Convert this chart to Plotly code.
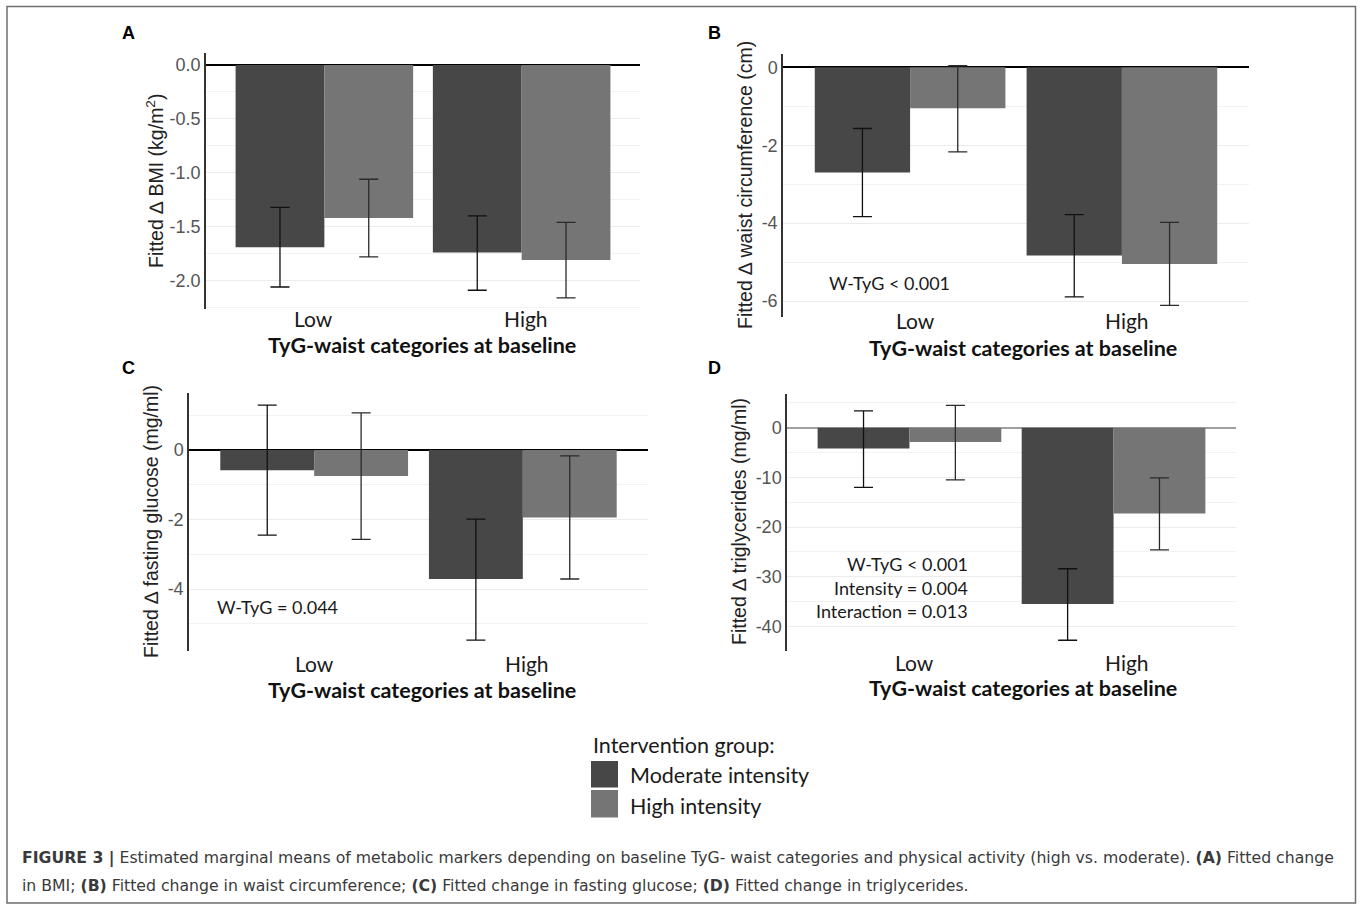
import plotly.graph_objects as go

W, H = 1360, 906

categories = ["Low", "High"]
group_names = ["Moderate intensity", "High intensity"]

# Panel A: BMI
bmi_mod = [-1.69, -1.74]
bmi_mod_lo = [-2.06, -2.09]
bmi_mod_hi = [-1.32, -1.40]
bmi_high = [-1.42, -1.81]
bmi_high_lo = [-1.78, -2.16]
bmi_high_hi = [-1.06, -1.46]
bmi_tickvals = [0.0, -0.5, -1.0, -1.5, -2.0]
bmi_ticktext = ["0.0", "-0.5", "-1.0", "-1.5", "-2.0"]

# Panel B: waist circumference
waist_mod = [-2.70, -4.83]
waist_mod_lo = [-3.83, -5.89]
waist_mod_hi = [-1.57, -3.78]
waist_high = [-1.05, -5.05]
waist_high_lo = [-2.17, -6.11]
waist_high_hi = [0.04, -3.98]
waist_tickvals = [0, -2, -4, -6]
waist_ticktext = ["0", "-2", "-4", "-6"]

# Panel C: fasting glucose
glu_mod = [-0.58, -3.71]
glu_mod_lo = [-2.45, -5.47]
glu_mod_hi = [1.29, -1.99]
glu_high = [-0.75, -1.94]
glu_high_lo = [-2.57, -3.71]
glu_high_hi = [1.07, -0.17]
glu_tickvals = [0, -2, -4]
glu_ticktext = ["0", "-2", "-4"]

# Panel D: triglycerides
tg_mod = [-4.2, -35.5]
tg_mod_lo = [-12.0, -42.8]
tg_mod_hi = [3.4, -28.4]
tg_high = [-2.9, -17.3]
tg_high_lo = [-10.5, -24.6]
tg_high_hi = [4.5, -10.1]
tg_tickvals = [0, -10, -20, -30, -40]
tg_ticktext = ["0", "-10", "-20", "-30", "-40"]

COL_MOD = "#474747"
COL_HIGH = "#757575"
CAL = "Lato, 'Open Sans', sans-serif"
ARIAL = "'Liberation Sans', Arial, sans-serif"


def px_x(p):
    return p / W


def px_y(p):
    return 1 - p / H


panels = [
    dict(mod=bmi_mod, mlo=bmi_mod_lo, mhi=bmi_mod_hi, hi=bmi_high, hlo=bmi_high_lo, hhi=bmi_high_hi,
         tv=bmi_tickvals, tt=bmi_ticktext, minor=0.25, yr=[-2.264, 0.109],
         xd=[206, 640], yd=[309, 53.3], zc="#000000",
         ytitle="Fitted \u2206 BMI (kg/m<sup>2</sup>)", ytx=155, yty=181,
         letter="A", lx=128, ly=33, xtx=422, xty=345, cty=318, csh=[-11, 4]),
    dict(mod=waist_mod, mlo=waist_mod_lo, mhi=waist_mod_hi, hi=waist_high, hlo=waist_high_lo, hhi=waist_high_hi,
         tv=waist_tickvals, tt=waist_ticktext, minor=1, yr=[-6.40, 0.334],
         xd=[783, 1249], yd=[316.7, 54.3], zc="#000000",
         ytitle="Fitted \u2206 waist circumference (cm)", ytx=745, yty=185,
         letter="B", lx=714, ly=33, xtx=1023, xty=348, cty=320, csh=[5, 5]),
    dict(mod=glu_mod, mlo=glu_mod_lo, mhi=glu_mod_hi, hi=glu_high, hlo=glu_high_lo, hhi=glu_high_hi,
         tv=glu_tickvals, tt=glu_ticktext, minor=1, yr=[-5.78, 1.63],
         xd=[189, 648], yd=[651, 393.3], zc="#000000",
         ytitle="Fitted \u2206 fasting glucose (mg/ml)", ytx=151, yty=522,
         letter="C", lx=128, ly=368, xtx=422, xty=690, cty=663, csh=[0, 4]),
    dict(mod=tg_mod, mlo=tg_mod_lo, mhi=tg_mod_hi, hi=tg_high, hlo=tg_high_lo, hhi=tg_high_hi,
         tv=tg_tickvals, tt=tg_ticktext, minor=5, yr=[-44.96, 6.72],
         xd=[787, 1236], yd=[651, 394.3], zc="#a0a0a0",
         ytitle="Fitted \u2206 triglycerides (mg/ml)", ytx=739, yty=521,
         letter="D", lx=714, ly=368, xtx=1023, xty=688, cty=662, csh=[5, 13]),
]

fig = go.Figure()
annotations = []
layout_axes = {}

for i, p in enumerate(panels, start=1):
    xa = "x" if i == 1 else f"x{i}"
    ya = "y" if i == 1 else f"y{i}"
    for vals, lo, hi, col, name, ecol in [
        (p["mod"], p["mlo"], p["mhi"], COL_MOD, group_names[0], "#111111"),
        (p["hi"], p["hlo"], p["hhi"], COL_HIGH, group_names[1], "#2a2a2a"),
    ]:
        fig.add_trace(go.Bar(
            x=categories, y=vals, name=name, marker=dict(color=col, line=dict(width=0)),
            error_y=dict(type="data", symmetric=False,
                         array=[h - v for h, v in zip(hi, vals)],
                         arrayminus=[v - l for v, l in zip(vals, lo)],
                         color=ecol, thickness=1.3, width=9.5),
            xaxis=xa, yaxis=ya, showlegend=False,
        ))
    xkey = "xaxis" if i == 1 else f"xaxis{i}"
    ykey = "yaxis" if i == 1 else f"yaxis{i}"
    layout_axes[xkey] = dict(
        domain=[px_x(p["xd"][0]), px_x(p["xd"][1])], anchor=ya,
        type="category", range=[-0.6, 1.6], showgrid=False, showline=False,
        zeroline=False, ticks="", showticklabels=False,
    )
    layout_axes[ykey] = dict(
        domain=[px_y(p["yd"][0]), px_y(p["yd"][1])], anchor=xa,
        range=p["yr"], tickmode="array", tickvals=p["tv"], ticktext=p["tt"],
        showgrid=True, gridcolor="#ececec", gridwidth=1,
        minor=dict(dtick=p["minor"], tick0=0, showgrid=True, gridcolor="#f2f2f2", gridwidth=1),
        zeroline=True, zerolinecolor=p["zc"], zerolinewidth=1.5,
        showline=True, linecolor="#333333", linewidth=1.5, ticks="",
        tickfont=dict(family=ARIAL, size=18, color="#555555"),
        layer="above traces",
    )
    # category labels placed through the category axis
    for c, sh in zip(categories, p["csh"]):
        annotations.append(dict(text=c, x=c, xref=xa, y=px_y(p["cty"]), yref="paper", xshift=sh,
                                showarrow=False, font=dict(family=CAL, size=21, color="#1a1a1a"),
                                xanchor="center", yanchor="middle"))
    annotations.append(dict(text=p["ytitle"], x=px_x(p["ytx"]), y=px_y(p["yty"]),
                            xref="paper", yref="paper", showarrow=False, textangle=-90,
                            font=dict(family=ARIAL, size=19.5, color="#222222"),
                            xanchor="center", yanchor="middle"))
    annotations.append(dict(text="<b>TyG-waist categories at baseline</b>", x=px_x(p["xtx"]),
                            y=px_y(p["xty"]), xref="paper", yref="paper", showarrow=False,
                            font=dict(family=CAL, size=21.5, color="#111111"),
                            xanchor="center", yanchor="middle"))
    annotations.append(dict(text=f"<b>{p['letter']}</b>", x=px_x(p["lx"]), y=px_y(p["ly"]),
                            xref="paper", yref="paper", showarrow=False,
                            font=dict(family=ARIAL, size=18, color="#000000"),
                            xanchor="center", yanchor="middle"))

# p-value notes
note_font = dict(family=CAL, size=18, color="#1a1a1a")
annotations.append(dict(text="W-TyG < 0.001", x=px_x(889), y=px_y(283), xref="paper", yref="paper",
                        showarrow=False, font=note_font, xanchor="center", yanchor="middle"))
annotations.append(dict(text="W-TyG = 0.044", x=px_x(277), y=px_y(607), xref="paper", yref="paper",
                        showarrow=False, font=note_font, xanchor="center", yanchor="middle"))
for txt, yy in [("W-TyG < 0.001", 564), ("Intensity = 0.004", 587.5), ("Interaction = 0.013", 611)]:
    annotations.append(dict(text=txt, x=px_x(970), y=px_y(yy), xref="paper", yref="paper",
                            showarrow=False, font=note_font, xanchor="right", yanchor="middle"))

# legend
leg_font = dict(family=CAL, size=21.5, color="#1a1a1a")
annotations.append(dict(text="Intervention group:", x=px_x(591), y=px_y(745), xref="paper", yref="paper",
                        showarrow=False, font=leg_font, xanchor="left", yanchor="middle"))
annotations.append(dict(text=group_names[0], x=px_x(628), y=px_y(775), xref="paper", yref="paper",
                        showarrow=False, font=leg_font, xanchor="left", yanchor="middle"))
annotations.append(dict(text=group_names[1], x=px_x(628), y=px_y(806), xref="paper", yref="paper",
                        showarrow=False, font=leg_font, xanchor="left", yanchor="middle"))

shapes = [
    dict(type="rect", xref="paper", yref="paper", x0=px_x(591), x1=px_x(618), y0=px_y(787.5), y1=px_y(761),
         fillcolor=COL_MOD, line=dict(width=0)),
    dict(type="rect", xref="paper", yref="paper", x0=px_x(591), x1=px_x(618), y0=px_y(817.5), y1=px_y(790),
         fillcolor=COL_HIGH, line=dict(width=0)),
    dict(type="rect", xref="paper", yref="paper", x0=px_x(7), x1=px_x(1355.5), y0=px_y(903), y1=px_y(6.5),
         fillcolor="rgba(0,0,0,0)", line=dict(color="#6e6e6e", width=1.5)),
]

# caption
cap_font = dict(family="'DejaVu Sans', sans-serif", size=15.7, color="#3a3a3a")
cap1 = ("<b>FIGURE 3 |</b> Estimated marginal means of metabolic markers depending on baseline TyG- waist "
        "categories and physical activity (high vs. moderate). <b>(A)</b> Fitted change")
cap2 = ("in BMI; <b>(B)</b> Fitted change in waist circumference; <b>(C)</b> Fitted change in fasting glucose; "
        "<b>(D)</b> Fitted change in triglycerides.")
annotations.append(dict(text=cap1, x=px_x(20), y=px_y(858), xref="paper", yref="paper", showarrow=False,
                        font=cap_font, xanchor="left", yanchor="middle"))
annotations.append(dict(text=cap2, x=px_x(20), y=px_y(885), xref="paper", yref="paper", showarrow=False,
                        font=cap_font, xanchor="left", yanchor="middle"))

fig.update_layout(
    width=W, height=H, margin=dict(l=0, r=0, t=0, b=0),
    paper_bgcolor="white", plot_bgcolor="white",
    barmode="group", bargap=0.1, bargroupgap=0,
    annotations=annotations, shapes=shapes, showlegend=False,
    **layout_axes,
)

fig.write_html("out.html", config={"displayModeBar": False},
               post_script="document.body.style.margin='0px';")
